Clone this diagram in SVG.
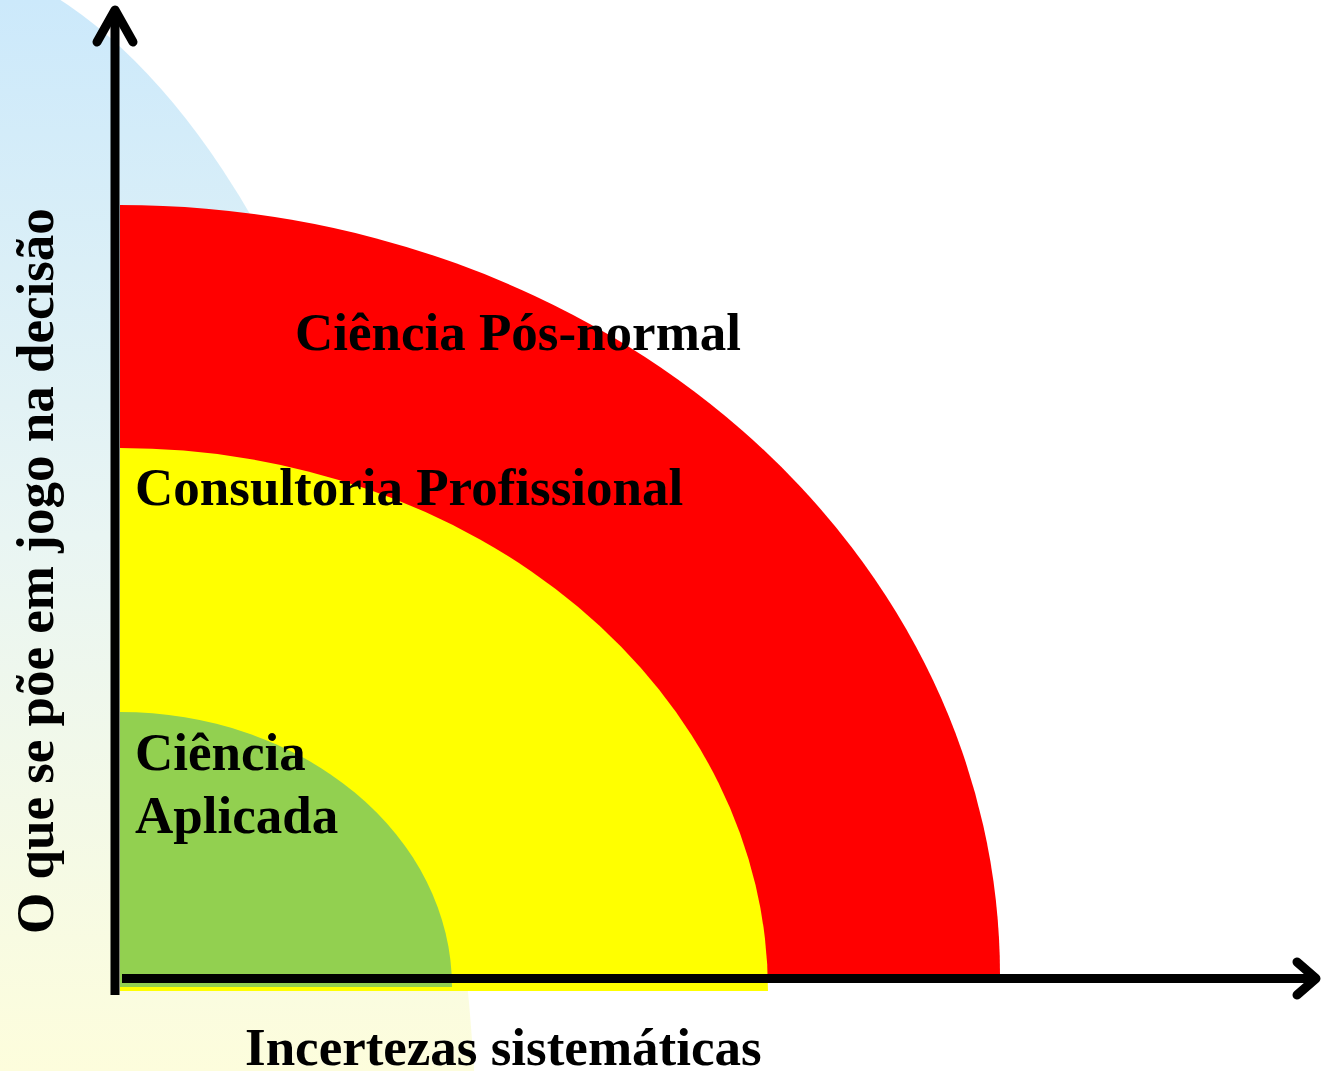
<svg xmlns="http://www.w3.org/2000/svg" width="1321" height="1071" viewBox="0 0 1321 1071">
  <style>
    .lbl { font-family: "Liberation Serif", "Times New Roman", serif; font-weight: bold; font-size: 53px; fill: #000; }
    .axis { fill: none; stroke: #000; stroke-width: 9; stroke-linecap: round; stroke-linejoin: round; }
  </style>
  <defs>
    <linearGradient id="bg" x1="0" y1="0" x2="0" y2="1071" gradientUnits="userSpaceOnUse">
      <stop offset="0" stop-color="#cce9fb"/>
      <stop offset="0.5" stop-color="#e9f5f3"/>
      <stop offset="1" stop-color="#fdfddc"/>
    </linearGradient>
  </defs>
  <rect width="1321" height="1071" fill="#fff"/>
  <ellipse id="background" cx="-100" cy="1256" rx="580" ry="1307" fill="url(#bg)"/>

  <g id="posnormal">
    <path d="M120,975 L120,205 A880,770 0 0 1 1000,975 Z" fill="#ff0000"/>
    <text class="lbl" x="295" y="350">Ciência Pós-normal</text>
  </g>
  <g id="consultoria">
    <path d="M120,991 L120,448 A648,543 0 0 1 768,991 Z" fill="#ffff00"/>
    <text class="lbl" x="135" y="505">Consultoria Profissional</text>
  </g>
  <g id="aplicada">
    <path d="M120,987 L120,712 A332,275 0 0 1 452,987 Z" fill="#92d050"/>
    <text class="lbl" x="135" y="770">Ciência</text>
    <text class="lbl" x="135" y="833">Aplicada</text>
  </g>

  <g id="axes">
    <line class="axis" x1="115" y1="995" x2="115" y2="12" style="stroke-linecap:butt"/>
    <polyline class="axis" points="97,42 115,10 133,42"/>
    <line class="axis" x1="122" y1="978.5" x2="1314" y2="978.5" style="stroke-linecap:butt"/>
    <polyline class="axis" points="1297,962 1316,978.5 1297,995"/>
  </g>

  <text id="ylabel" class="lbl" transform="translate(53,934) rotate(-90)" x="0" y="0">O que se põe em jogo na decisão</text>
  <text id="xlabel" class="lbl" x="245" y="1065">Incertezas sistemáticas</text>
</svg>
